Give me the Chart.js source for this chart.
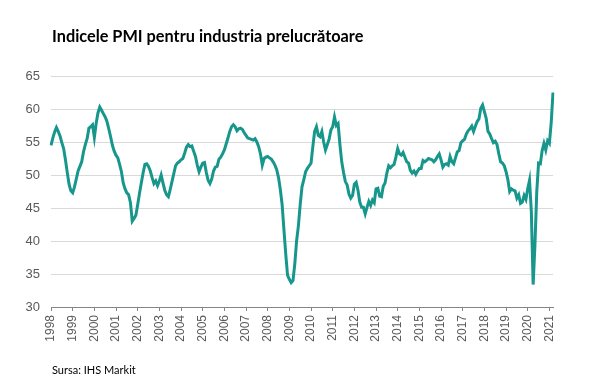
<!DOCTYPE html>
<html>
<head>
<meta charset="utf-8">
<script src="https://cdn.jsdelivr.net/npm/chart.js@4/dist/chart.umd.min.js"></script>
<style>
  body { margin: 0; background: #fff; }
  #wrap { position: relative; width: 600px; height: 390px; }
  #title { position: absolute; left: 52px; top: 26px; font: bold 16.3px Lato, sans-serif; color: #000; }
  #source { position: absolute; left: 52px; top: 363px; font: 11px Lato, sans-serif; color: #000; }
  canvas { position: absolute; left: 0; top: 0; }
</style>
</head>
<body>
<div id="wrap">
  <canvas id="chart" width="600" height="390"></canvas>
  <div id="title">Indicele PMI pentru industria prelucrătoare</div>
  <div id="source">Sursa: IHS Markit</div>
</div>
<script>
// year tick labels
const years = [1998, 1999, 2000, 2001, 2002, 2003, 2004, 2005, 2006, 2007, 2008, 2009,
  2010, 2011, 2012, 2013, 2014, 2015, 2016, 2017, 2018, 2019, 2020, 2021];
const yTicks = [30, 35, 40, 45, 50, 55, 60, 65];

// monthly PMI values, Jan 1998 .. Mar 2021
const pmi1998_2003 = [
  54.5, 55.6, 56.5, 57.2, 56.6, 55.9, 54.9, 54.0, 52.3, 50.4, 48.6, 47.6,
  47.3, 48.2, 49.4, 50.6, 51.3, 52.0, 53.5, 54.6, 55.5, 57.1, 57.3, 57.6,
  55.7, 57.8, 59.4, 60.3, 59.8, 59.3, 58.8, 58.1, 57.0, 55.8, 54.5, 53.6,
  53.0, 52.6, 51.6, 50.5, 48.8, 47.9, 47.3, 47.0, 45.8, 43.0, 43.4, 43.9,
  45.5, 47.2, 48.8, 50.3, 51.6, 51.7, 51.3, 50.6, 49.6, 48.7, 49.1, 48.4,
  49.1, 50.0, 48.8, 47.7, 47.0, 46.7, 47.8, 49.0, 50.2, 51.4, 51.8, 52.0
];
const pmi2004_2009 = [
  52.3, 52.5, 53.3, 54.2, 54.6, 54.3, 54.4, 53.6, 52.8, 51.5, 50.5, 51.2,
  51.8, 51.9, 50.4, 49.2, 48.7, 49.4, 50.6, 51.2, 51.3, 52.4, 52.7, 53.2,
  53.8, 54.7, 55.6, 56.6, 57.3, 57.6, 57.3, 56.7, 57.0, 57.1, 56.9, 56.4,
  56.0, 55.6, 55.5, 55.4, 55.3, 55.5, 55.0, 54.3, 53.2, 51.5, 52.5, 52.7,
  52.8, 52.6, 52.4, 52.0, 51.5, 50.8, 49.6, 47.8, 45.5, 41.7, 38.0, 34.8,
  34.2, 33.7, 34.0, 36.5, 40.0, 42.3, 45.5, 48.2, 49.3, 50.5, 51.0, 51.4
];
const pmi2010_2015 = [
  51.8, 54.3, 56.6, 57.3, 56.0, 55.8, 56.6, 55.0, 53.8, 54.6, 55.4, 56.8,
  57.3, 58.8, 57.5, 57.8, 54.6, 52.0, 50.4, 49.0, 48.5, 47.1, 46.5, 46.9,
  48.6, 48.9, 47.7, 45.9, 45.1, 45.1, 44.1, 45.1, 46.0, 45.4, 46.2, 45.8,
  47.9, 48.0, 46.8, 46.7, 48.3, 48.8, 50.3, 51.4, 51.1, 51.4, 51.6, 52.7,
  54.0, 53.2, 53.0, 53.4, 52.7, 52.0, 51.8, 50.7, 50.3, 50.6, 50.1, 50.6,
  51.0, 51.0, 52.2, 52.0, 52.2, 52.5, 52.4, 52.3, 52.0, 52.3, 52.8, 53.2
];
const pmi2016_2021 = [
  52.3, 51.2, 51.6, 51.7, 51.5, 52.8, 52.0, 51.7, 52.6, 53.5, 53.7, 54.9,
  55.2, 55.4, 56.2, 56.7, 57.0, 57.4, 56.6, 57.4, 58.1, 58.5, 60.1, 60.6,
  59.6, 58.6, 56.6, 56.2, 55.5, 54.9, 55.1, 54.6, 53.2, 52.0, 51.8, 51.4,
  50.5, 49.3, 47.5, 47.9, 47.7, 47.6, 46.5, 47.0, 45.7, 45.9, 46.9, 46.3,
  47.9, 49.2, 44.5, 33.4, 39.4, 47.4, 51.8, 51.7, 53.7, 54.8, 53.8, 55.2,
  54.8, 57.9, 62.5
];

const values = [...pmi1998_2003, ...pmi2004_2009, ...pmi2010_2015, ...pmi2016_2021];
const labels = [];
years.forEach(y => {
  for (let m = 1; m <= 12; m++) labels.push(y + '-' + String(m).padStart(2, '0'));
});
labels.length = values.length;

new Chart(document.getElementById('chart'), {
  type: 'line',
  data: {
    labels: labels,
    datasets: [{
      data: values,
      borderColor: '#17978b',
      borderWidth: 3,
      pointRadius: 0,
      tension: 0,
      fill: false
    }]
  },
  options: {
    responsive: false,
    animation: false,
    layout: { padding: { top: 76, right: 47, left: 0, bottom: 0 } },
    plugins: { legend: { display: false }, tooltip: { enabled: false } },
    scales: {
      x: {
        type: 'category',
        offset: false,
        afterFit: (scale) => { scale.height = 83; },
        grid: { drawOnChartArea: false, drawTicks: true, tickLength: 4, color: '#868686' },
        border: { color: '#868686', width: 1 },
        ticks: {
          autoSkip: false,
          maxRotation: 90,
          minRotation: 90,
          padding: 4,
          color: '#595959',
          font: { family: 'Liberation Sans', size: 12 },
          callback: function (val, i) {
            const l = this.getLabelForValue(val);
            return l.endsWith('-01') ? l.slice(0, 4) : null;
          }
        }
      },
      y: {
        min: 30,
        max: 65,
        afterFit: (scale) => { scale.width = 51; },
        afterBuildTicks: (scale) => { scale.ticks = yTicks.map(v => ({ value: v })); },
        grid: { color: '#d9d9d9', lineWidth: 1, drawTicks: false },
        border: { display: false },
        ticks: {
          padding: 11,
          color: '#595959',
          font: { family: 'Liberation Sans', size: 13 }
        }
      }
    }
  }
});
</script>
</body>
</html>
